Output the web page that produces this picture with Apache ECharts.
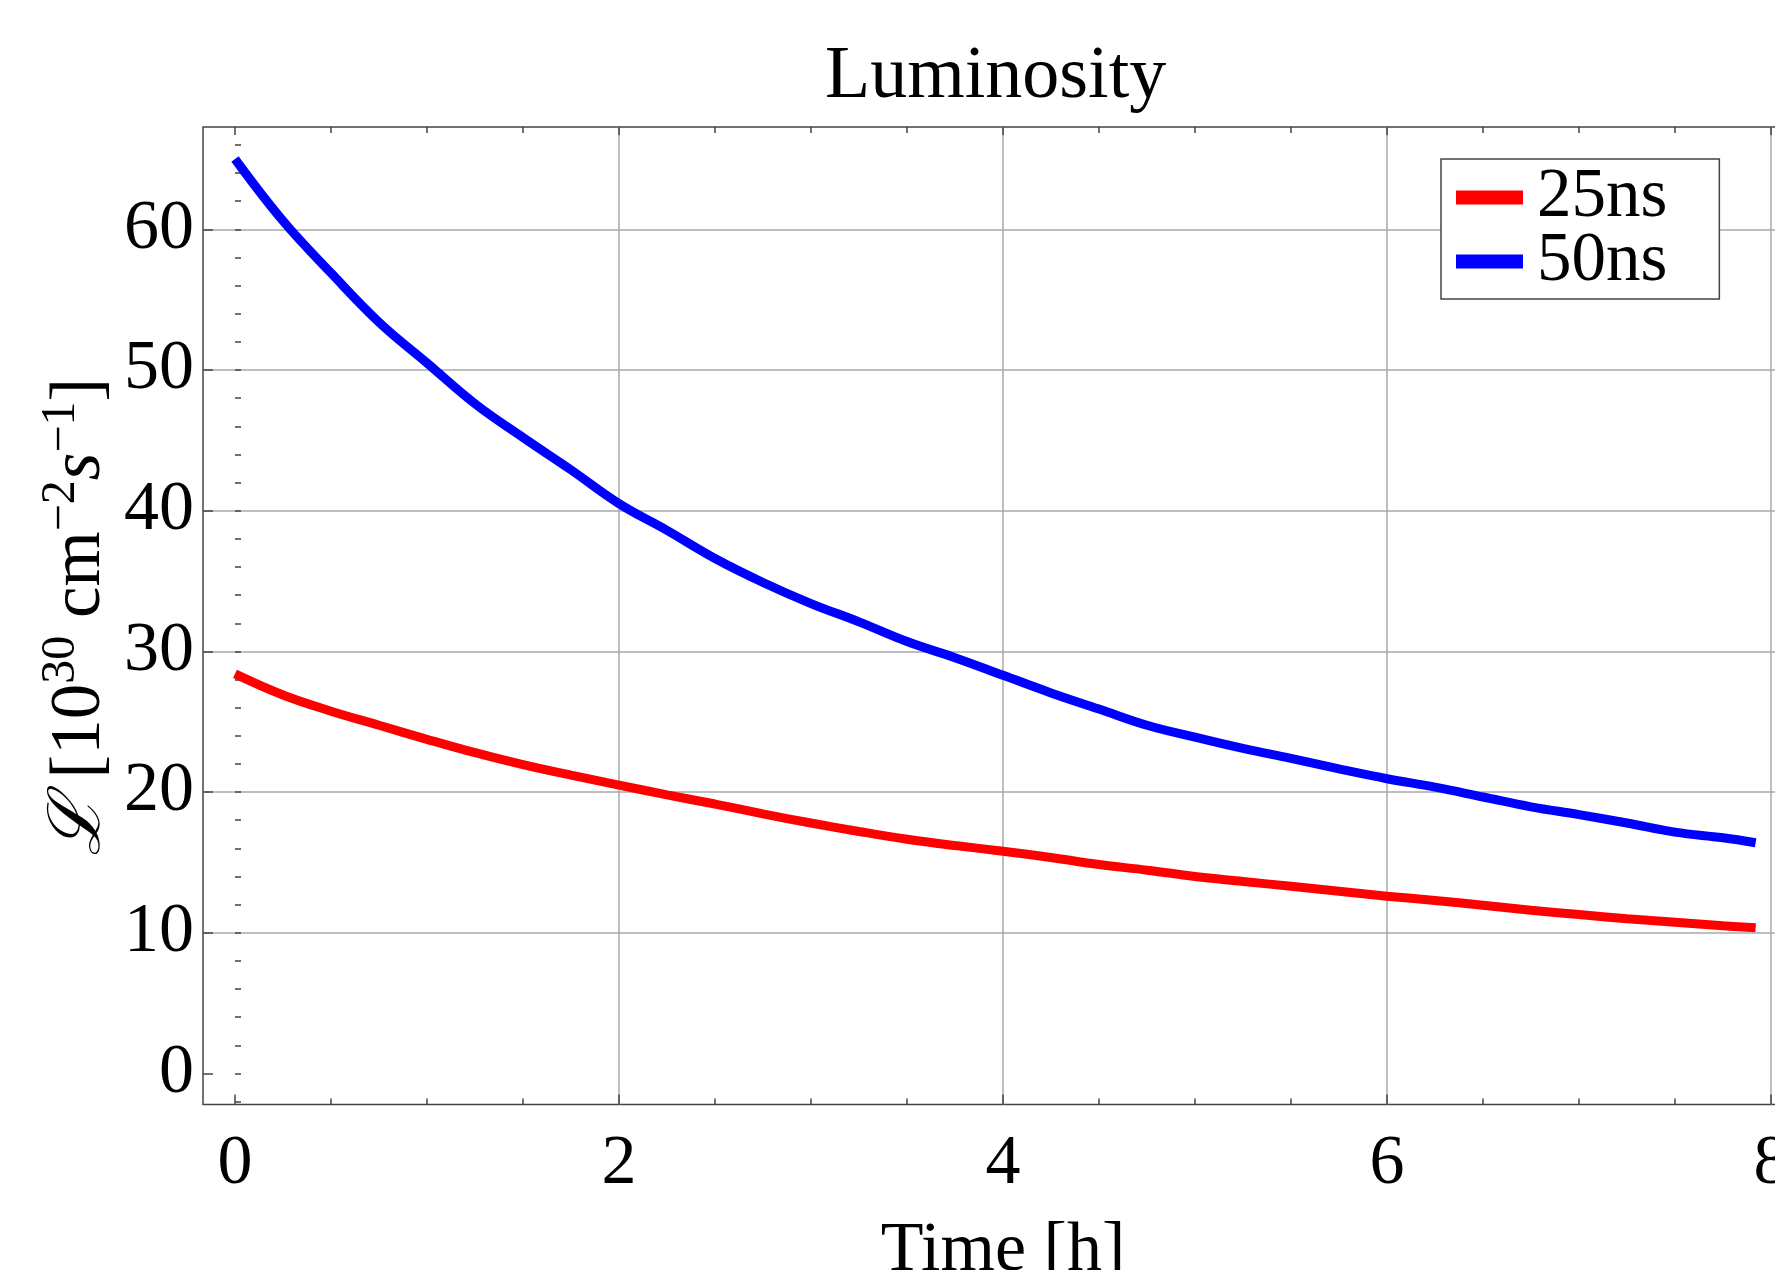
<!DOCTYPE html>
<html>
<head>
<meta charset="utf-8">
<title>Luminosity</title>
<script src="https://cdn.jsdelivr.net/npm/echarts@6/dist/echarts.min.js"></script>
<style>
  html, body { margin: 0; padding: 0; background: #fff; overflow: hidden; }
  #chart { width: 1775px; height: 1270px; }
</style>
</head>
<body>
<div id="chart"></div>
<script>
  // values
  var timeH = [0, 0.25, 0.5, 0.75, 1, 1.25, 1.5, 1.75, 2, 2.25, 2.5, 2.75, 3, 3.25, 3.5, 3.75,
    4, 4.25, 4.5, 4.75, 5, 5.25, 5.5, 5.75, 6, 6.25, 6.5, 6.75, 7, 7.25, 7.5, 7.75, 7.92];
  var lum25ns = [28.4, 26.9, 25.75, 24.75, 23.75, 22.8, 21.95, 21.2, 20.5, 19.8, 19.15, 18.45, 17.8, 17.2, 16.65, 16.2,
    15.8, 15.35, 14.85, 14.45, 14.0, 13.65, 13.3, 12.95, 12.6, 12.3, 11.95, 11.6, 11.3, 11.0, 10.75, 10.5, 10.35];
  var lum50ns = [65.0, 60.6, 56.9, 53.4, 50.5, 47.6, 45.2, 42.9, 40.5, 38.6, 36.6, 34.9, 33.4, 32.1, 30.7, 29.55,
    28.3, 27.05, 25.9, 24.75, 23.9, 23.1, 22.4, 21.65, 20.95, 20.35, 19.65, 18.95, 18.4, 17.8, 17.15, 16.75, 16.4];
  var seriesNames = ['25ns', '50ns'];
  var xTickRange = [0, 8];   // major ticks every 2
  var yTickRange = [0, 60];  // major ticks every 10
  var yMinorRange = [-2, 66]; // minor ticks every 2

  var serif = 'Liberation Serif';
  var frameColor = '#444';
  var gridColor = '#a8a8a8';

  function pairs(xs, ys) {
    return xs.map(function (x, i) { return [x, ys[i]]; });
  }

  var chart = echarts.init(document.getElementById('chart'));

  chart.setOption({
    animation: false,
    backgroundColor: '#fff',
    color: ['#ff0000', '#0000ff'],
    title: {
      text: 'Luminosity',
      left: 820,
      top: 36,
      textStyle: { fontFamily: serif, fontSize: 74, fontWeight: 'normal', color: '#000' }
    },
    legend: {
      data: seriesNames,
      orient: 'vertical',
      left: 1441,
      top: 159,
      icon: 'rect',
      itemWidth: 67,
      itemHeight: 14,
      itemGap: -5,
      padding: [4, 52, 3, 15],
      borderColor: frameColor,
      borderWidth: 1.5,
      borderRadius: 0,
      backgroundColor: '#fff',
      textStyle: { fontFamily: serif, fontSize: 69, lineHeight: 64, color: '#000', padding: [0, 0, 0, 9] }
    },
    grid: [
      // 0: frame
      { left: 203, top: 127, right: -2, bottom: 165.5, show: true, borderColor: frameColor, borderWidth: 1.5, backgroundColor: 'transparent', containLabel: false, outerBoundsMode: 'none' },
      // 1: x ticks, labels, vertical grid lines
      { left: 235, top: 127, right: 4, bottom: 165.5, containLabel: false, outerBoundsMode: 'none' },
      // 2: y major ticks, labels, horizontal grid lines
      { left: 203, top: 229.3, right: -2, bottom: 196.5, containLabel: false, outerBoundsMode: 'none' },
      // 3: data + y minor ticks
      { left: 235, top: 144.9, right: 4, bottom: 168.4, containLabel: false, outerBoundsMode: 'none' }
    ],
    xAxis: [
      {
        gridIndex: 1, type: 'value', position: 'bottom',
        min: xTickRange[0], max: xTickRange[1], interval: 2,
        axisLine: { show: false },
        axisTick: { show: true, inside: true, length: 10, lineStyle: { color: frameColor, width: 1.5 } },
        minorTick: { show: true, splitNumber: 4, length: 6, lineStyle: { color: frameColor, width: 1.5 } },
        splitLine: { show: true, showMinLine: false, showMaxLine: true, lineStyle: { color: gridColor, width: 1.5 } },
        axisLabel: { fontFamily: serif, fontSize: 70, color: '#000', margin: 25 },
        name: 'Time [h]',
        nameLocation: 'middle',
        nameGap: 112,
        nameTextStyle: { fontFamily: serif, fontSize: 70, color: '#000' }
      },
      {
        gridIndex: 1, type: 'value', position: 'top',
        min: xTickRange[0], max: xTickRange[1], interval: 2,
        axisLine: { show: false },
        axisTick: { show: true, inside: true, length: 8, lineStyle: { color: frameColor, width: 1.5 } },
        minorTick: { show: true, splitNumber: 4, length: 6, lineStyle: { color: frameColor, width: 1.5 } },
        splitLine: { show: false },
        axisLabel: { show: false }
      },
      { gridIndex: 2, type: 'value', show: false, min: 0, max: 1 },
      { gridIndex: 3, type: 'value', show: false, min: xTickRange[0], max: xTickRange[1] },
      { gridIndex: 0, type: 'value', show: false, min: 0, max: 1 }
    ],
    yAxis: [
      { gridIndex: 1, type: 'value', show: false, min: 0, max: 1 },
      {
        gridIndex: 2, type: 'value', position: 'left',
        min: yTickRange[0], max: yTickRange[1], interval: 10,
        axisLine: { show: false },
        axisTick: { show: true, inside: true, length: 10, lineStyle: { color: frameColor, width: 1.5 } },
        splitLine: { show: true, showMinLine: false, showMaxLine: true, lineStyle: { color: gridColor, width: 1.5 } },
        axisLabel: { fontFamily: serif, fontSize: 70, color: '#000', margin: 9 }
      },
      {
        gridIndex: 3, type: 'value', position: 'left', offset: 32,
        min: yMinorRange[0], max: yMinorRange[1], interval: 2,
        axisLine: { show: false },
        axisTick: { show: true, inside: true, length: 6, lineStyle: { color: frameColor, width: 1.5 } },
        splitLine: { show: false },
        axisLabel: { show: false }
      },
      { gridIndex: 0, type: 'value', show: false, min: 0, max: 1 }
    ],
    graphic: [
      {
        type: 'text',
        x: 80,
        y: 617,
        rotation: Math.PI / 2,
        style: {
          text: '{l|\u2112} [10{sup|30} cm{sup|\u22122}{it|s}{sup|\u22121}]',
          fontFamily: serif,
          fontSize: 71,
          lineHeight: 86,
          fill: '#000',
          align: 'center',
          verticalAlign: 'middle',
          rich: {
            l: { fontFamily: 'DejaVu Serif', fontStyle: 'italic', fontSize: 72, lineHeight: 86, fill: '#000' },
            sup: { fontFamily: serif, fontSize: 48, lineHeight: 52, verticalAlign: 'top', fill: '#000' },
            it: { fontFamily: serif, fontStyle: 'italic', fontSize: 71, lineHeight: 86, fill: '#000' }
          }
        }
      }
    ],
    series: [
      {
        name: seriesNames[0],
        type: 'line',
        xAxisIndex: 3,
        yAxisIndex: 2,
        data: pairs(timeH, lum25ns),
        showSymbol: false,
        symbol: 'none',
        smooth: 0.4,
        clip: false,
        z: 5,
        lineStyle: { width: 9, color: '#ff0000' }
      },
      {
        name: seriesNames[1],
        type: 'line',
        xAxisIndex: 3,
        yAxisIndex: 2,
        data: pairs(timeH, lum50ns),
        showSymbol: false,
        symbol: 'none',
        smooth: 0.4,
        clip: false,
        z: 5,
        lineStyle: { width: 9, color: '#0000ff' }
      }
    ]
  });
</script>
</body>
</html>
